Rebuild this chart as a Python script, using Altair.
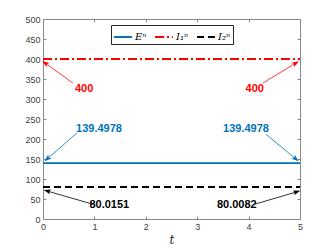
import math
import altair as alt
import pandas as pd

# ---- data ----
series = ["Eⁿ", "I₁ⁿ", "I₂ⁿ"]
levels = [139.4978, 400.0, 80.0]
t_range = [0, 5]
colors = ["#0072BD", "#FF0000", "#000000"]
dashes = [[1, 0], [9, 3, 2, 3], [7, 4]]
x_ticks = [0, 1, 2, 3, 4, 5]
y_ticks = [0, 50, 100, 150, 200, 250, 300, 350, 400, 450, 500]

ann_text = ["400", "400", "139.4978", "139.4978", "80.0151", "80.0082"]
ann_color = ["#FF0000", "#FF0000", "#0072BD", "#0072BD", "#000000", "#000000"]
ann_tx = [0.80, 4.12, 1.09, 3.95, 1.29, 3.77]
ann_ty = [325, 325, 225, 225, 35, 35]
arr_x0 = [0.58, 4.28, 0.66, 4.34, 0.97, 4.12]
arr_y0 = [340, 340, 215, 212, 37, 37]
arr_x1 = [0.04, 4.92, 0.08, 4.92, 0.08, 4.94]
arr_y1 = [390, 390, 150, 150, 70, 68]

W, H = 257, 200
XMAX, YMAX = 5, 500

lines = pd.DataFrame([
    {"series": s, "t": t, "v": v}
    for s, v in zip(series, levels) for t in t_range
])

arrows = pd.DataFrame(
    [{"id": i, "t": x, "v": y, "c": c} for i, (x, y, c) in
     enumerate(zip(arr_x0, arr_y0, ann_color))] +
    [{"id": i, "t": x, "v": y, "c": c} for i, (x, y, c) in
     enumerate(zip(arr_x1, arr_y1, ann_color))]
)

heads = []
for i in range(len(arr_x0)):
    dx = (arr_x1[i] - arr_x0[i]) * W / XMAX
    dy = -(arr_y1[i] - arr_y0[i]) * H / YMAX
    ang = math.degrees(math.atan2(dx, -dy)) % 360
    heads.append({"t": arr_x1[i], "v": arr_y1[i], "c": ann_color[i], "a": ang})
heads = pd.DataFrame(heads)

texts = pd.DataFrame({"t": ann_tx, "v": ann_ty, "lab": ann_text, "c": ann_color})

xsc = alt.Scale(domain=[0, XMAX], nice=False)
ysc = alt.Scale(domain=[0, YMAX], nice=False)

base_x = alt.X("t:Q", scale=xsc, title="t",
               axis=alt.Axis(values=x_ticks, format="d"))
base_y = alt.Y("v:Q", scale=ysc, title=None,
               axis=alt.Axis(values=y_ticks, format="d"))

line_layer = alt.Chart(lines).mark_line(strokeWidth=1.8, clip=True).encode(
    x=base_x,
    y=base_y,
    color=alt.Color("series:N", scale=alt.Scale(domain=series, range=colors),
                    legend=alt.Legend(
                        title=None, orient="none", direction="horizontal",
                        legendX=68, legendY=6, symbolType="stroke",
                        symbolSize=320, symbolStrokeWidth=1.8,
                        labelFont="DejaVu Serif", labelFontStyle="italic",
                        labelFontSize=10, labelColor="#000000",
                        strokeColor="#262626", fillColor="white",
                        padding=2, columnPadding=4, labelOffset=2,
                        symbolOffset=0)),
    strokeDash=alt.StrokeDash("series:N",
                              scale=alt.Scale(domain=series, range=dashes),
                              legend=None),
)

arrow_layer = alt.Chart(arrows).mark_line(strokeWidth=0.8).encode(
    x=base_x, y=base_y, detail="id:N",
    color=alt.Color("c:N", scale=None),
)

head_layer = alt.Chart(heads).mark_point(
    shape="M0,-1L0.7,1L0,0.6L-0.7,1Z", filled=True, size=50, opacity=1
).encode(
    x=base_x, y=base_y, angle=alt.Angle("a:Q", scale=None),
    color=alt.Color("c:N", scale=None),
)

text_layer = alt.Chart(texts).mark_text(
    fontWeight="bold", fontSize=11, font="Liberation Sans"
).encode(
    x=base_x, y=base_y, text="lab:N", color=alt.Color("c:N", scale=None),
)

main = alt.layer(line_layer, arrow_layer, head_layer, text_layer)

# mirrored ticks on the top and right edges (box style)
box_layer = alt.Chart(lines).mark_line(opacity=0).encode(
    x=alt.X("t:Q", scale=xsc, title=None,
            axis=alt.Axis(orient="top", values=x_ticks, labels=False)),
    y=alt.Y("v:Q", scale=ysc, title=None,
            axis=alt.Axis(orient="right", values=y_ticks, labels=False)),
)

chart = alt.layer(main, box_layer).resolve_axis(
    x="independent", y="independent"
).properties(
    width=W, height=H,
    autosize=alt.AutoSizeParams(type="none"),
    padding={"left": 35, "top": 11, "right": 24, "bottom": 28},
).configure_view(
    stroke="#888888", strokeWidth=1
).configure_axis(
    grid=False, domain=False, ticks=True, tickSize={"expr": "-3"},
    tickColor="#888888", labelOverlap=False, labelFlush=False,
    labelColor="#404040", labelFont="Liberation Sans", labelFontSize=9,
    titleFont="DejaVu Serif", titleFontStyle="italic", titleFontWeight="normal",
    titleFontSize=12, titleColor="#262626",
).configure_axisY(labelPadding=6).configure_axisX(titlePadding=3, labelPadding=6)

chart.save("out.html", embed_options={"renderer": "svg", "actions": False})
